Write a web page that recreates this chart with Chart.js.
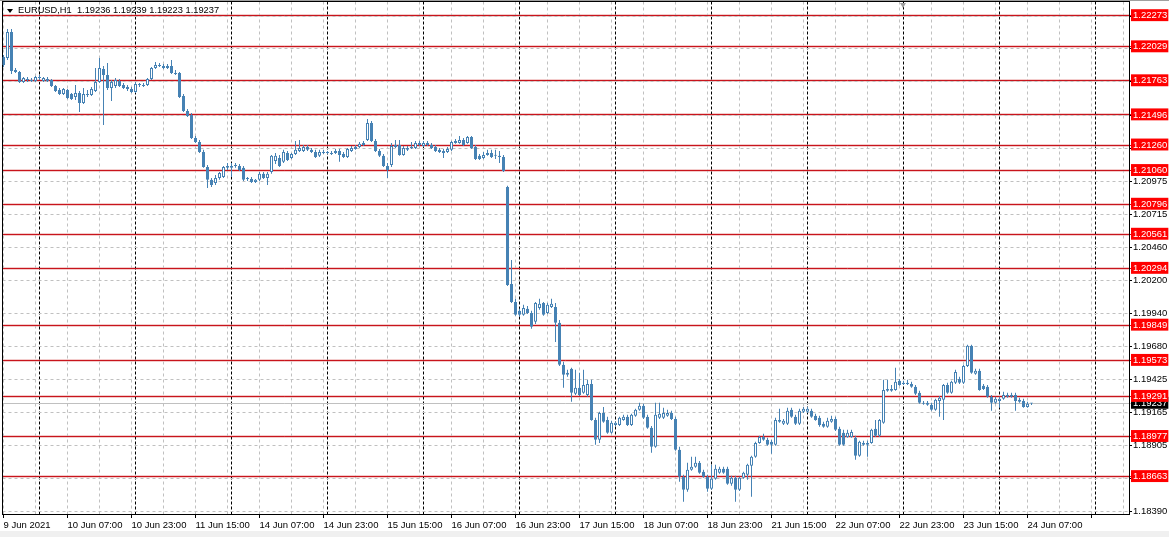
<!DOCTYPE html>
<html>
<head>
<meta charset="utf-8">
<script src="https://cdn.jsdelivr.net/npm/chart.js@4.4.0/dist/chart.umd.min.js"></script>
<style>
  html, body { margin: 0; padding: 0; }
  body {
    width: 1169px; height: 537px; position: relative; overflow: hidden;
    background: linear-gradient(to bottom, #a0a0a0 0, #a0a0a0 1px, #fff 1px, #fff 531px, #f0f0f0 531px);
  }
  #chart { position: absolute; left: 0; top: 0; }
  #hdr {
    position: absolute; left: 18px; top: 4px; white-space: pre;
    font: 9.3px "Liberation Sans", Arial, sans-serif; line-height: 12px; color: #000;
  }
  #hdrArrow {
    position: absolute; left: 7px; top: 9px; width: 0; height: 0;
    border-left: 3.5px solid transparent; border-right: 3.5px solid transparent; border-top: 4px solid #000;
  }
  #shift {
    position: absolute; left: 900px; top: 3px; width: 0; height: 0;
    border-left: 3px solid transparent; border-right: 3px solid transparent; border-top: 5px solid #a0a0a0;
  }
</style>
</head>
<body>
<canvas id="chart" width="1169" height="537"></canvas>
<div id="hdrArrow"></div>
<div id="hdr">EURUSD,H1  1.19236 1.19239 1.19223 1.19237</div>
<div id="shift"></div>
<script>
// time axis labels, one every 16 hourly bars
const timeLabels = ["9 Jun 2021", "10 Jun 07:00", "10 Jun 23:00", "11 Jun 15:00", "14 Jun 07:00",
  "14 Jun 23:00", "15 Jun 15:00", "16 Jun 07:00", "16 Jun 23:00", "17 Jun 15:00", "18 Jun 07:00",
  "18 Jun 23:00", "21 Jun 15:00", "22 Jun 07:00", "22 Jun 23:00", "23 Jun 15:00", "24 Jun 07:00"];

// price grid of the right scale (hidden ones sit under the red level labels)
const gridPrices = [1.18390, 1.18650, 1.18905, 1.19165, 1.19425, 1.19680, 1.19940, 1.20200,
  1.20460, 1.20715, 1.20975, 1.21235, 1.21495, 1.21755, 1.22015, 1.22270];
const shownGridPrices = [1.18390, 1.18905, 1.19165, 1.19425, 1.19680, 1.19940, 1.20200,
  1.20460, 1.20715, 1.20975];

// horizontal levels (red lines)
const levelPrices = [1.22273, 1.22029, 1.21763, 1.21496, 1.21260, 1.21060, 1.20796, 1.20561,
  1.20294, 1.19849, 1.19573, 1.19291, 1.18977, 1.18663];
const lastPrice = 1.19237;

// EURUSD H1 candles
const opens = [
  1.21950, 1.21942, 1.22145, 1.21848, 1.21832, 1.21754, 1.21777, 1.21770, 1.21762, 1.21785,
  1.21762, 1.21777, 1.21770, 1.21723, 1.21691, 1.21660, 1.21691, 1.21660, 1.21636, 1.21668,
  1.21589, 1.21652, 1.21652, 1.21683, 1.21754, 1.21856, 1.21809, 1.21707, 1.21723, 1.21762,
  1.21730, 1.21715, 1.21699, 1.21676, 1.21730, 1.21723, 1.21730, 1.21777, 1.21864, 1.21887,
  1.21879, 1.21864, 1.21879, 1.21824, 1.21824, 1.21644, 1.21527, 1.21496, 1.21315, 1.21284,
  1.21206, 1.21088, 1.20987, 1.20963, 1.21002, 1.21010, 1.21081, 1.21096, 1.21096, 1.21096,
  1.21081, 1.20994, 1.20994, 1.20971, 1.20987, 1.21034, 1.21002, 1.21049, 1.21135, 1.21159,
  1.21128, 1.21198, 1.21159, 1.21190, 1.21214, 1.21214, 1.21245, 1.21222, 1.21206, 1.21175,
  1.21198, 1.21198, 1.21198, 1.21198, 1.21214, 1.21190, 1.21167, 1.21214, 1.21229, 1.21245,
  1.21261, 1.21300, 1.21433, 1.21292, 1.21214, 1.21175, 1.21096, 1.21104, 1.21245, 1.21261,
  1.21182, 1.21222, 1.21237, 1.21237, 1.21261, 1.21253, 1.21276, 1.21261, 1.21245, 1.21222,
  1.21214, 1.21206, 1.21222, 1.21276, 1.21276, 1.21300, 1.21276, 1.21323, 1.21245, 1.21175,
  1.21159, 1.21182, 1.21198, 1.21175, 1.21175, 1.21167, 1.20932, 1.20172, 1.20031, 1.19961,
  1.19930, 1.19977, 1.19945, 1.19875, 1.19984, 1.20023, 1.19945, 1.19992, 1.19992, 1.19867,
  1.19538, 1.19460, 1.19507, 1.19311, 1.19358, 1.19319, 1.19303, 1.19389, 1.19107, 1.18951,
  1.19162, 1.19107, 1.19006, 1.19068, 1.19068, 1.19107, 1.19131, 1.19068, 1.19139, 1.19186,
  1.19217, 1.19131, 1.19045, 1.18896, 1.19123, 1.19123, 1.19139, 1.19162, 1.19115, 1.18873,
  1.18661, 1.18559, 1.18716, 1.18740, 1.18771, 1.18701, 1.18661, 1.18567, 1.18646, 1.18693,
  1.18724, 1.18724, 1.18606, 1.18653, 1.18559, 1.18653, 1.18677, 1.18747, 1.18818, 1.18927,
  1.18974, 1.18951, 1.18935, 1.18912, 1.19107, 1.19076, 1.19076, 1.19186, 1.19131, 1.19076,
  1.19170, 1.19170, 1.19178, 1.19139, 1.19123, 1.19076, 1.19053, 1.19092, 1.19115, 1.19037,
  1.19006, 1.18974, 1.18974, 1.18967, 1.18826, 1.18912, 1.18912, 1.18927, 1.19037, 1.18982,
  1.19084, 1.19335, 1.19335, 1.19342, 1.19413, 1.19397, 1.19389, 1.19389, 1.19366, 1.19319,
  1.19241, 1.19241, 1.19225, 1.19186, 1.19256, 1.19264, 1.19381, 1.19319, 1.19397, 1.19428,
  1.19397, 1.19530, 1.19687, 1.19468, 1.19491, 1.19374, 1.19366, 1.19288, 1.19241, 1.19256,
  1.19272, 1.19288, 1.19288, 1.19303, 1.19264, 1.19256, 1.19209, 1.19236
];
const highs = [
  1.21965, 1.22169, 1.22169, 1.21864, 1.21840, 1.21793, 1.21793, 1.21785, 1.21801, 1.21809,
  1.21793, 1.21793, 1.21777, 1.21730, 1.21707, 1.21707, 1.21699, 1.21668, 1.21730, 1.21683,
  1.21707, 1.21691, 1.21715, 1.21864, 1.21942, 1.21879, 1.21903, 1.21770, 1.21785, 1.21777,
  1.21746, 1.21730, 1.21715, 1.21754, 1.21746, 1.21746, 1.21785, 1.21871, 1.21911, 1.21903,
  1.21895, 1.21895, 1.21926, 1.21848, 1.21832, 1.21660, 1.21543, 1.21511, 1.21331, 1.21300,
  1.21222, 1.21104, 1.21002, 1.21026, 1.21049, 1.21096, 1.21120, 1.21120, 1.21120, 1.21112,
  1.21096, 1.21010, 1.21010, 1.20994, 1.21049, 1.21049, 1.21049, 1.21182, 1.21198, 1.21182,
  1.21222, 1.21214, 1.21198, 1.21292, 1.21300, 1.21261, 1.21261, 1.21237, 1.21222, 1.21222,
  1.21222, 1.21214, 1.21214, 1.21229, 1.21229, 1.21206, 1.21237, 1.21253, 1.21261, 1.21284,
  1.21292, 1.21464, 1.21449, 1.21308, 1.21229, 1.21190, 1.21120, 1.21276, 1.21300, 1.21300,
  1.21253, 1.21253, 1.21284, 1.21292, 1.21292, 1.21292, 1.21292, 1.21276, 1.21261, 1.21237,
  1.21229, 1.21245, 1.21292, 1.21308, 1.21331, 1.21315, 1.21331, 1.21331, 1.21261, 1.21190,
  1.21206, 1.21222, 1.21222, 1.21222, 1.21214, 1.21182, 1.20940, 1.20360, 1.20055, 1.19977,
  1.20008, 1.20000, 1.19961, 1.20031, 1.20055, 1.20031, 1.20023, 1.20055, 1.20023, 1.19890,
  1.19562, 1.19499, 1.19515, 1.19499, 1.19476, 1.19499, 1.19421, 1.19421, 1.19123, 1.19170,
  1.19209, 1.19131, 1.19100, 1.19092, 1.19131, 1.19147, 1.19147, 1.19155, 1.19194, 1.19241,
  1.19233, 1.19147, 1.19060, 1.19241, 1.19241, 1.19202, 1.19186, 1.19178, 1.19131, 1.18896,
  1.18677, 1.18771, 1.18818, 1.18818, 1.18786, 1.18716, 1.18677, 1.18755, 1.18755, 1.18740,
  1.18740, 1.18740, 1.18669, 1.18669, 1.18661, 1.18701, 1.18763, 1.18826, 1.18935, 1.18982,
  1.18998, 1.18967, 1.18951, 1.19123, 1.19194, 1.19115, 1.19202, 1.19202, 1.19147, 1.19194,
  1.19209, 1.19209, 1.19194, 1.19155, 1.19139, 1.19092, 1.19123, 1.19139, 1.19131, 1.19053,
  1.19029, 1.19029, 1.19029, 1.18982, 1.18943, 1.18943, 1.18943, 1.19037, 1.19107, 1.19115,
  1.19421, 1.19421, 1.19381, 1.19515, 1.19428, 1.19413, 1.19421, 1.19405, 1.19381, 1.19335,
  1.19256, 1.19256, 1.19241, 1.19272, 1.19295, 1.19389, 1.19397, 1.19413, 1.19499, 1.19444,
  1.19538, 1.19695, 1.19695, 1.19507, 1.19507, 1.19389, 1.19381, 1.19303, 1.19288, 1.19288,
  1.19327, 1.19319, 1.19319, 1.19319, 1.19280, 1.19272, 1.19249, 1.19239
];
const lows = [
  1.21871, 1.21926, 1.21817, 1.21824, 1.21746, 1.21746, 1.21754, 1.21754, 1.21754, 1.21770,
  1.21754, 1.21754, 1.21715, 1.21676, 1.21652, 1.21652, 1.21621, 1.21613, 1.21613, 1.21519,
  1.21582, 1.21636, 1.21644, 1.21676, 1.21746, 1.21417, 1.21691, 1.21605, 1.21707, 1.21715,
  1.21699, 1.21683, 1.21668, 1.21668, 1.21715, 1.21715, 1.21723, 1.21770, 1.21856, 1.21871,
  1.21856, 1.21856, 1.21817, 1.21809, 1.21629, 1.21519, 1.21480, 1.21308, 1.21276, 1.21198,
  1.21081, 1.20924, 1.20932, 1.20947, 1.20987, 1.21002, 1.21065, 1.21010, 1.21081, 1.21057,
  1.20979, 1.20979, 1.20963, 1.20963, 1.20979, 1.20994, 1.20947, 1.21034, 1.21112, 1.21088,
  1.21120, 1.21135, 1.21151, 1.21182, 1.21206, 1.21206, 1.21214, 1.21198, 1.21159, 1.21167,
  1.21190, 1.21190, 1.21182, 1.21190, 1.21128, 1.21159, 1.21159, 1.21206, 1.21222, 1.21237,
  1.21253, 1.21292, 1.21284, 1.21206, 1.21167, 1.21088, 1.21002, 1.21088, 1.21237, 1.21175,
  1.21175, 1.21214, 1.21229, 1.21229, 1.21253, 1.21245, 1.21253, 1.21229, 1.21206, 1.21198,
  1.21159, 1.21198, 1.21214, 1.21269, 1.21269, 1.21253, 1.21269, 1.21229, 1.21143, 1.21143,
  1.21151, 1.21175, 1.21159, 1.21151, 1.21120, 1.21049, 1.20156, 1.20023, 1.19922, 1.19914,
  1.19922, 1.19937, 1.19820, 1.19859, 1.19969, 1.19922, 1.19937, 1.19984, 1.19718, 1.19530,
  1.19358, 1.19444, 1.19249, 1.19303, 1.19295, 1.19311, 1.19288, 1.19100, 1.18912, 1.18927,
  1.19084, 1.18998, 1.18998, 1.19060, 1.19060, 1.19100, 1.19060, 1.19060, 1.19131, 1.19178,
  1.19115, 1.19037, 1.18849, 1.18888, 1.19115, 1.19115, 1.19131, 1.19107, 1.18865, 1.18622,
  1.18465, 1.18544, 1.18708, 1.18732, 1.18685, 1.18653, 1.18544, 1.18559, 1.18638, 1.18685,
  1.18685, 1.18599, 1.18591, 1.18465, 1.18551, 1.18646, 1.18638, 1.18505, 1.18810, 1.18920,
  1.18943, 1.18904, 1.18841, 1.18904, 1.19084, 1.19068, 1.19068, 1.19123, 1.19068, 1.19068,
  1.19162, 1.19162, 1.19123, 1.19100, 1.19053, 1.19045, 1.19045, 1.19084, 1.19021, 1.18904,
  1.18904, 1.18967, 1.18967, 1.18794, 1.18818, 1.18904, 1.18818, 1.18920, 1.18974, 1.18974,
  1.19076, 1.19327, 1.19327, 1.19335, 1.19374, 1.19381, 1.19381, 1.19358, 1.19303, 1.19233,
  1.19225, 1.19217, 1.19178, 1.19178, 1.19131, 1.19107, 1.19311, 1.19311, 1.19389, 1.19389,
  1.19389, 1.19522, 1.19468, 1.19460, 1.19335, 1.19342, 1.19280, 1.19178, 1.19233, 1.19202,
  1.19264, 1.19280, 1.19280, 1.19178, 1.19241, 1.19202, 1.19202, 1.19223
];
const closes = [
  1.21887, 1.22145, 1.21840, 1.21832, 1.21754, 1.21785, 1.21770, 1.21762, 1.21793, 1.21793,
  1.21785, 1.21762, 1.21723, 1.21683, 1.21660, 1.21699, 1.21629, 1.21621, 1.21668, 1.21589,
  1.21660, 1.21660, 1.21699, 1.21754, 1.21864, 1.21809, 1.21707, 1.21754, 1.21770, 1.21723,
  1.21707, 1.21699, 1.21676, 1.21738, 1.21730, 1.21730, 1.21777, 1.21864, 1.21887, 1.21879,
  1.21864, 1.21879, 1.21824, 1.21817, 1.21636, 1.21527, 1.21488, 1.21315, 1.21284, 1.21206,
  1.21088, 1.20987, 1.20947, 1.21002, 1.21041, 1.21088, 1.21096, 1.21081, 1.21096, 1.21065,
  1.20987, 1.20994, 1.20971, 1.20987, 1.21034, 1.21002, 1.21034, 1.21175, 1.21175, 1.21096,
  1.21206, 1.21143, 1.21190, 1.21222, 1.21237, 1.21245, 1.21222, 1.21206, 1.21167, 1.21206,
  1.21206, 1.21198, 1.21190, 1.21214, 1.21182, 1.21167, 1.21229, 1.21237, 1.21245, 1.21269,
  1.21276, 1.21433, 1.21292, 1.21214, 1.21175, 1.21096, 1.21065, 1.21253, 1.21261, 1.21182,
  1.21237, 1.21237, 1.21237, 1.21276, 1.21276, 1.21276, 1.21261, 1.21237, 1.21214, 1.21206,
  1.21198, 1.21229, 1.21284, 1.21292, 1.21300, 1.21261, 1.21323, 1.21237, 1.21151, 1.21151,
  1.21182, 1.21198, 1.21167, 1.21175, 1.21167, 1.21057, 1.20164, 1.20031, 1.19930, 1.19930,
  1.19984, 1.19945, 1.19836, 1.20023, 1.20016, 1.19930, 1.20008, 1.20016, 1.19867, 1.19538,
  1.19460, 1.19476, 1.19319, 1.19358, 1.19303, 1.19381, 1.19389, 1.19107, 1.18951, 1.19162,
  1.19092, 1.19006, 1.19084, 1.19084, 1.19123, 1.19131, 1.19068, 1.19147, 1.19186, 1.19217,
  1.19123, 1.19045, 1.18896, 1.19147, 1.19155, 1.19162, 1.19162, 1.19115, 1.18873, 1.18661,
  1.18559, 1.18716, 1.18740, 1.18771, 1.18693, 1.18661, 1.18567, 1.18646, 1.18724, 1.18724,
  1.18693, 1.18606, 1.18653, 1.18559, 1.18653, 1.18693, 1.18755, 1.18818, 1.18927, 1.18974,
  1.18951, 1.18912, 1.18912, 1.19107, 1.19092, 1.19100, 1.19178, 1.19131, 1.19076, 1.19178,
  1.19194, 1.19194, 1.19131, 1.19107, 1.19068, 1.19053, 1.19100, 1.19115, 1.19029, 1.18912,
  1.18912, 1.19006, 1.19013, 1.18826, 1.18935, 1.18927, 1.18927, 1.19029, 1.18982, 1.19107,
  1.19342, 1.19350, 1.19350, 1.19405, 1.19381, 1.19389, 1.19397, 1.19366, 1.19311, 1.19241,
  1.19233, 1.19225, 1.19186, 1.19264, 1.19280, 1.19381, 1.19319, 1.19405, 1.19483, 1.19397,
  1.19530, 1.19687, 1.19476, 1.19491, 1.19342, 1.19350, 1.19288, 1.19241, 1.19272, 1.19272,
  1.19303, 1.19303, 1.19303, 1.19256, 1.19249, 1.19209, 1.19233, 1.19237
];

const BLUE = "#4682B4";
const RED_LINE = "#c8141c";
const RED_HALO = "#f3cccc";
const FONT = { family: "'Liberation Sans', Arial, sans-serif", size: 9.5, lineHeight: 1.15 };
const Y_MIN = 1.18370, Y_MAX = 1.22384;
const X_MIN = -0.25, X_MAX = 281.375;

const bodyData = opens.map((o, i) => ({ x: i, y: [o, closes[i]] }));
const wickData = lows.map((l, i) => ({ x: i, y: [l, highs[i]] }));

const isLevel = v => levelPrices.includes(v);
const isDaySep = v => (v - 9) % 24 === 0;

new Chart(document.getElementById("chart"), {
    type: "bar",
    data: {
        datasets: [
            {
                label: "body",
                data: bodyData,
                grouped: false,
                barThickness: 3,
                minBarLength: 1,
                inflateAmount: 0,
                borderWidth: 1,
                borderSkipped: false,
                borderColor: BLUE,
                backgroundColor: c => closes[c.dataIndex] > opens[c.dataIndex] ? "#ffffff" : BLUE
            },
            {
                label: "wick",
                data: wickData,
                grouped: false,
                barThickness: 1,
                inflateAmount: 0,
                borderWidth: 0,
                backgroundColor: BLUE
            }
        ]
    },
    options: {
        responsive: false,
        animation: false,
        devicePixelRatio: 1,
        layout: { padding: { left: 2.5, top: 1.5, right: 0, bottom: 0 }, autoPadding: false },
        plugins: { legend: { display: false }, tooltip: { enabled: false } },
        scales: {
            x: {
                type: "linear",
                position: "bottom",
                min: X_MIN,
                max: X_MAX,
                offset: false,
                afterBuildTicks: scale => {
                    const vals = [];
                    for (let v = 0; v <= 280; v += 8) vals.push(v);
                    for (let v = 9; v <= 280; v += 24) vals.push(v);
                    vals.sort((a, b) => a - b);
                    scale.ticks = vals.map(v => ({ value: v }));
                },
                afterFit: s => { s.height = 23; s.paddingLeft = 0; s.paddingRight = 0; },
                ticks: {
                    autoSkip: false,
                    maxRotation: 0,
                    minRotation: 0,
                    align: "start",
                    padding: 2,
                    color: "#000",
                    font: FONT,
                    callback: v => (v % 16 === 0 && v / 16 < timeLabels.length) ? timeLabels[v / 16] : ""
                },
                grid: {
                    offset: false,
                    lineWidth: 1,
                    tickLength: 4,
                    color: c => isDaySep(c.tick.value) ? "#000000" : "#c0c0c0",
                    tickColor: c => c.tick.value % 16 === 0 ? "#000000" : "rgba(0,0,0,0)"
                },
                border: {
                    color: "#000",
                    dash: c => c.tick ? (isDaySep(c.tick.value) ? [3, 2] : [3, 3]) : []
                }
            },
            xTop: {
                type: "linear",
                position: "top",
                display: true,
                min: X_MIN,
                max: X_MAX,
                ticks: { display: false },
                grid: { display: false, drawTicks: false },
                border: { display: true, color: "#000" },
                afterFit: s => { s.height = 0; s.paddingLeft = 0; s.paddingRight = 0; }
            },
            // soft band under each level line, drawn first
            yHalo: {
                type: "linear",
                position: "right",
                display: true,
                min: Y_MIN,
                max: Y_MAX,
                afterBuildTicks: scale => {
                    scale.ticks = levelPrices.map(v => ({ value: v }));
                },
                afterFit: s => { s.width = 0; s.paddingTop = 0; s.paddingBottom = 0; },
                ticks: { display: false, autoSkip: false },
                grid: { z: -2, lineWidth: 3, color: RED_HALO, drawTicks: false },
                border: { display: false }
            },
            y: {
                type: "linear",
                position: "right",
                min: Y_MIN,
                max: Y_MAX,
                afterBuildTicks: scale => {
                    // grid first, then last price, then the levels so the red marks sit on top
                    scale.ticks = [...gridPrices, lastPrice, ...levelPrices].map(v => ({ value: v }));
                },
                afterFit: s => { s.width = 40; s.paddingTop = 0; s.paddingBottom = 0; },
                ticks: {
                    autoSkip: false,
                    padding: 1,
                    font: FONT,
                    callback: v => (shownGridPrices.includes(v) || isLevel(v) || v === lastPrice) ? v.toFixed(5) : "",
                    color: c => (isLevel(c.tick.value) || c.tick.value === lastPrice) ? "#ffffff" : "#000000",
                    showLabelBackdrop: true,
                    backdropColor: c => isLevel(c.tick.value) ? "#ff0000" : (c.tick.value === lastPrice ? "#000000" : "rgba(0,0,0,0)"),
                    backdropPadding: { left: 2, right: 1, top: 1, bottom: 0 }
                },
                grid: {
                    lineWidth: 1,
                    tickLength: 3,
                    color: c => isLevel(c.tick.value) ? RED_LINE : "#c0c0c0",
                    tickColor: c => isLevel(c.tick.value) ? RED_LINE : (c.tick.value === lastPrice ? "#c0c0c0" : "#000000")
                },
                border: {
                    color: "#000",
                    dash: c => (c.tick && gridPrices.includes(c.tick.value)) ? [3, 3] : []
                }
            },
            yLeft: {
                type: "linear",
                position: "left",
                display: true,
                min: Y_MIN,
                max: Y_MAX,
                ticks: { display: false },
                grid: { display: false, drawTicks: false },
                border: { display: true, color: "#000" },
                afterFit: s => { s.width = 0; s.paddingTop = 0; s.paddingBottom = 0; }
            }
        }
    }
});
</script>
</body>
</html>
